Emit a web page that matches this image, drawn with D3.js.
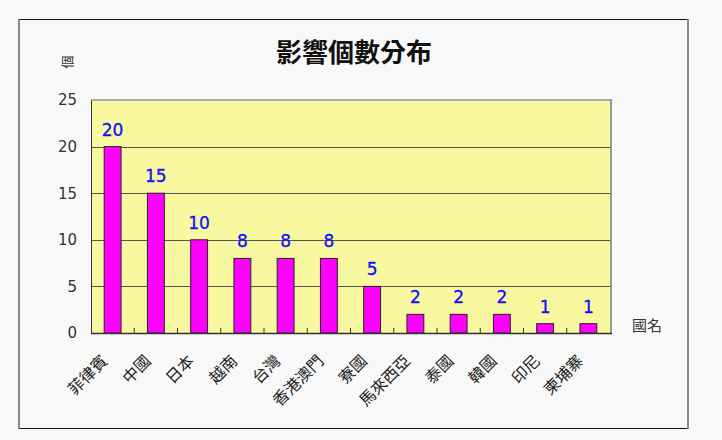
<!DOCTYPE html>
<html><head><meta charset="utf-8">
<script src="https://cdn.jsdelivr.net/npm/d3@7"></script>
<style>html,body{margin:0;padding:0;background:#f8f8f8;}svg{display:block;}</style>
</head><body>
<svg id="c" width="722" height="440"></svg>
<script>
const categories = ["菲律賓","中國","日本","越南","台灣","香港澳門","寮國","馬來西亞","泰國","韓國","印尼","柬埔寨"];
const values = [20,15,10,8,8,8,5,2,2,2,1,1];
const yTicks = [0,5,10,15,20,25];
const title = "影響個數分布";
const yLabel = "個";
const xLabel = "國名";

const svg = d3.select("#c");
const font = "'Noto Sans CJK TC','Noto Sans CJK SC',sans-serif";
svg.append("rect").attr("width",722).attr("height",440).attr("fill","#f8f8f8");
// outer frame
svg.append("line").attr("x1",18).attr("x2",689).attr("y1",19.5).attr("y2",19.5).attr("stroke","#111");
svg.append("line").attr("x1",18).attr("x2",689).attr("y1",428.5).attr("y2",428.5).attr("stroke","#111");
svg.append("line").attr("x1",19).attr("x2",19).attr("y1",19).attr("y2",429).attr("stroke","#888").attr("stroke-width",2);
svg.append("line").attr("x1",688).attr("x2",688).attr("y1",19).attr("y2",429).attr("stroke","#888").attr("stroke-width",2);

const m = {l:91, r:610, t:100, b:333};
const x = d3.scaleBand().domain(categories).range([m.l,m.r]).paddingInner(0.61).paddingOuter(0.305);
const y = d3.scaleLinear().domain([0,25]).range([m.b,m.t]);

svg.append("rect").attr("x",m.l).attr("y",m.t).attr("width",m.r-m.l).attr("height",m.b-m.t).attr("fill","#f8f8a0");
// plot frame top/right
svg.append("line").attr("x1",m.l).attr("x2",m.r+1).attr("y1",m.t).attr("y2",m.t).attr("stroke","#aaa").attr("stroke-width",2);
svg.append("line").attr("x1",m.r+1).attr("x2",m.r+1).attr("y1",m.t-1).attr("y2",m.b).attr("stroke","#999").attr("stroke-width",2);

// grid
svg.append("g").selectAll("line").data(yTicks.filter(d=>d>0 && d<25)).join("line")
  .attr("x1",m.l).attr("x2",m.r).attr("y1",d=>Math.round(y(d))+0.5).attr("y2",d=>Math.round(y(d))+0.5)
  .attr("stroke","#555").attr("stroke-width",1);

// bars
svg.append("g").selectAll("rect").data(values).join("rect")
  .attr("x",(d,i)=>x(categories[i])).attr("width",x.bandwidth())
  .attr("y",d=>y(d)).attr("height",d=>y(0)-y(d))
  .attr("fill","#ff00ff").attr("stroke","#222").attr("stroke-width",1);

// value labels
svg.append("g").selectAll("text").data(values).join("text")
  .attr("x",(d,i)=>x(categories[i])+x.bandwidth()/2).attr("y",d=>y(d)-11)
  .attr("text-anchor","middle").attr("font-family","'DejaVu Sans',sans-serif").attr("font-size",17)
  .attr("fill","#1010ff").attr("stroke","#1010ff").attr("stroke-width",0.3).text(d=>d);

// y axis
const yAxis = d3.axisLeft(y).tickValues(yTicks).tickSize(0).tickPadding(14);
const ga = svg.append("g").attr("transform",`translate(${m.l},0)`).call(yAxis);
ga.select(".domain").attr("stroke","#333");
ga.selectAll("text").attr("font-family","'DejaVu Sans',sans-serif").attr("font-size",15).attr("fill","#333");

// x axis
const step = x.step();
const xb = svg.append("g");
xb.append("line").attr("x1",m.l).attr("x2",m.r+2).attr("y1",m.b+0.5).attr("y2",m.b+0.5).attr("stroke","#333").attr("stroke-width",1.5);
xb.selectAll("line.t").data(d3.range(1,categories.length)).join("line").attr("class","t")
  .attr("x1",i=>m.l+i*step).attr("x2",i=>m.l+i*step).attr("y1",m.b).attr("y2",m.b-5).attr("stroke","#333");
xb.selectAll("text").data(categories).join("text")
  .attr("transform",d=>`translate(${x(d)+x.bandwidth()/2-4},${m.b+29}) rotate(-45)`)
  .attr("text-anchor","end").attr("font-family",font).attr("font-size",16).attr("fill","#222").text(d=>d);

// title
svg.append("text").attr("x",354).attr("y",62).attr("text-anchor","middle").attr("font-family",font)
  .attr("font-size",26).attr("font-weight","bold").attr("fill","#111").text(title);
svg.append("text").attr("transform","translate(66,62) rotate(-90)").attr("text-anchor","middle").attr("dominant-baseline","central")
  .attr("font-family",font).attr("font-size",13).attr("fill","#333").text(yLabel);
svg.append("text").attr("x",647).attr("y",331).attr("text-anchor","middle").attr("font-family",font)
  .attr("font-size",15).attr("fill","#333").text(xLabel);
</script>
</body></html>
